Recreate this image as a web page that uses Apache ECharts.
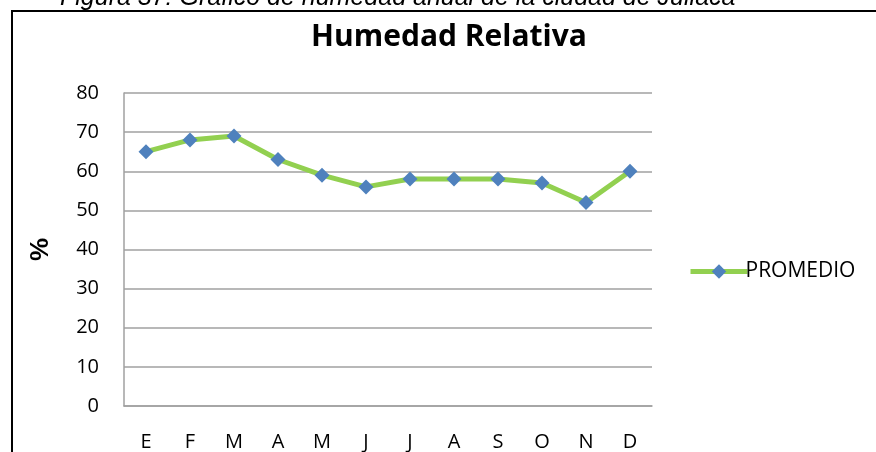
<!DOCTYPE html>
<html>
<head>
<meta charset="utf-8">
<script src="https://cdn.jsdelivr.net/npm/echarts@6/dist/echarts.min.js"></script>
<style>
  html, body { margin: 0; padding: 0; background: #fff; }
  #box1 { width: 876px; height: 452px; }
</style>
</head>
<body>
<div id="box1"></div>
<script>
var meses = ['E', 'F', 'M', 'A', 'M', 'J', 'J', 'A', 'S', 'O', 'N', 'D'];
var promedio = [65, 68, 69, 63, 59, 56, 58, 58, 58, 57, 52, 60];

var myChart1 = echarts.init(document.getElementById('box1'));
var option = {
    backgroundColor: '#fff',
    animation: false,
    title: {
        text: 'Humedad Relativa',
        left: 444,
        textAlign: 'center',
        top: 17,
        textStyle: {
            fontFamily: 'Open Sans',
            fontWeight: 'bold',
            fontSize: 30,
            color: '#000'
        }
    },
    legend: {
        data: ['PROMEDIO'],
        left: 683,
        top: 256,
        itemWidth: 57,
        itemHeight: 18,
        itemGap: 0,
        lineStyle: { width: 5 },
        textStyle: {
            fontFamily: 'Open Sans',
            fontSize: 21,
            color: '#000',
            padding: [0, 0, 0, -7]
        }
    },
    grid: {
        left: 124,
        right: 224,
        top: 93,
        bottom: 46
    },
    xAxis: {
        type: 'category',
        data: meses,
        boundaryGap: true,
        axisLine: { lineStyle: { color: '#a0a0a0', width: 1.5 } },
        axisTick: { show: false },
        axisLabel: {
            margin: 26,
            fontFamily: 'Open Sans',
            fontSize: 20,
            color: '#000'
        }
    },
    yAxis: {
        type: 'value',
        min: 0,
        max: 80,
        interval: 10,
        name: '%',
        nameLocation: 'middle',
        nameGap: 70,
        nameRotate: 90,
        nameTextStyle: {
            fontFamily: 'Liberation Sans',
            fontWeight: 'bold',
            fontSize: 26,
            color: '#000'
        },
        axisLine: { show: true, lineStyle: { color: '#a0a0a0', width: 1.5 } },
        axisTick: { show: false },
        splitLine: { lineStyle: { color: '#a0a0a0', width: 1.5 } },
        axisLabel: {
            margin: 25,
            fontFamily: 'Open Sans',
            fontSize: 20,
            color: '#000'
        }
    },
    graphic: [
        {
            type: 'rect',
            shape: { x: 12, y: 11, width: 880, height: 460 },
            style: { fill: 'none', stroke: '#000', lineWidth: 2 }
        },
        {
            type: 'text',
            left: 60,
            top: -14,
            style: {
                text: 'Figura 37: Gráfico de humedad anual de la ciudad de Juliaca',
                fontFamily: 'Liberation Sans',
                fontStyle: 'italic',
                fontSize: 25,
                fill: '#000'
            }
        }
    ],
    series: [
        {
            name: 'PROMEDIO',
            type: 'line',
            data: promedio,
            symbol: 'diamond',
            symbolSize: 15,
            lineStyle: { color: '#92d050', width: 5 },
            itemStyle: { color: '#4f81bd' }
        }
    ]
};
myChart1.setOption(option);
</script>
</body>
</html>
